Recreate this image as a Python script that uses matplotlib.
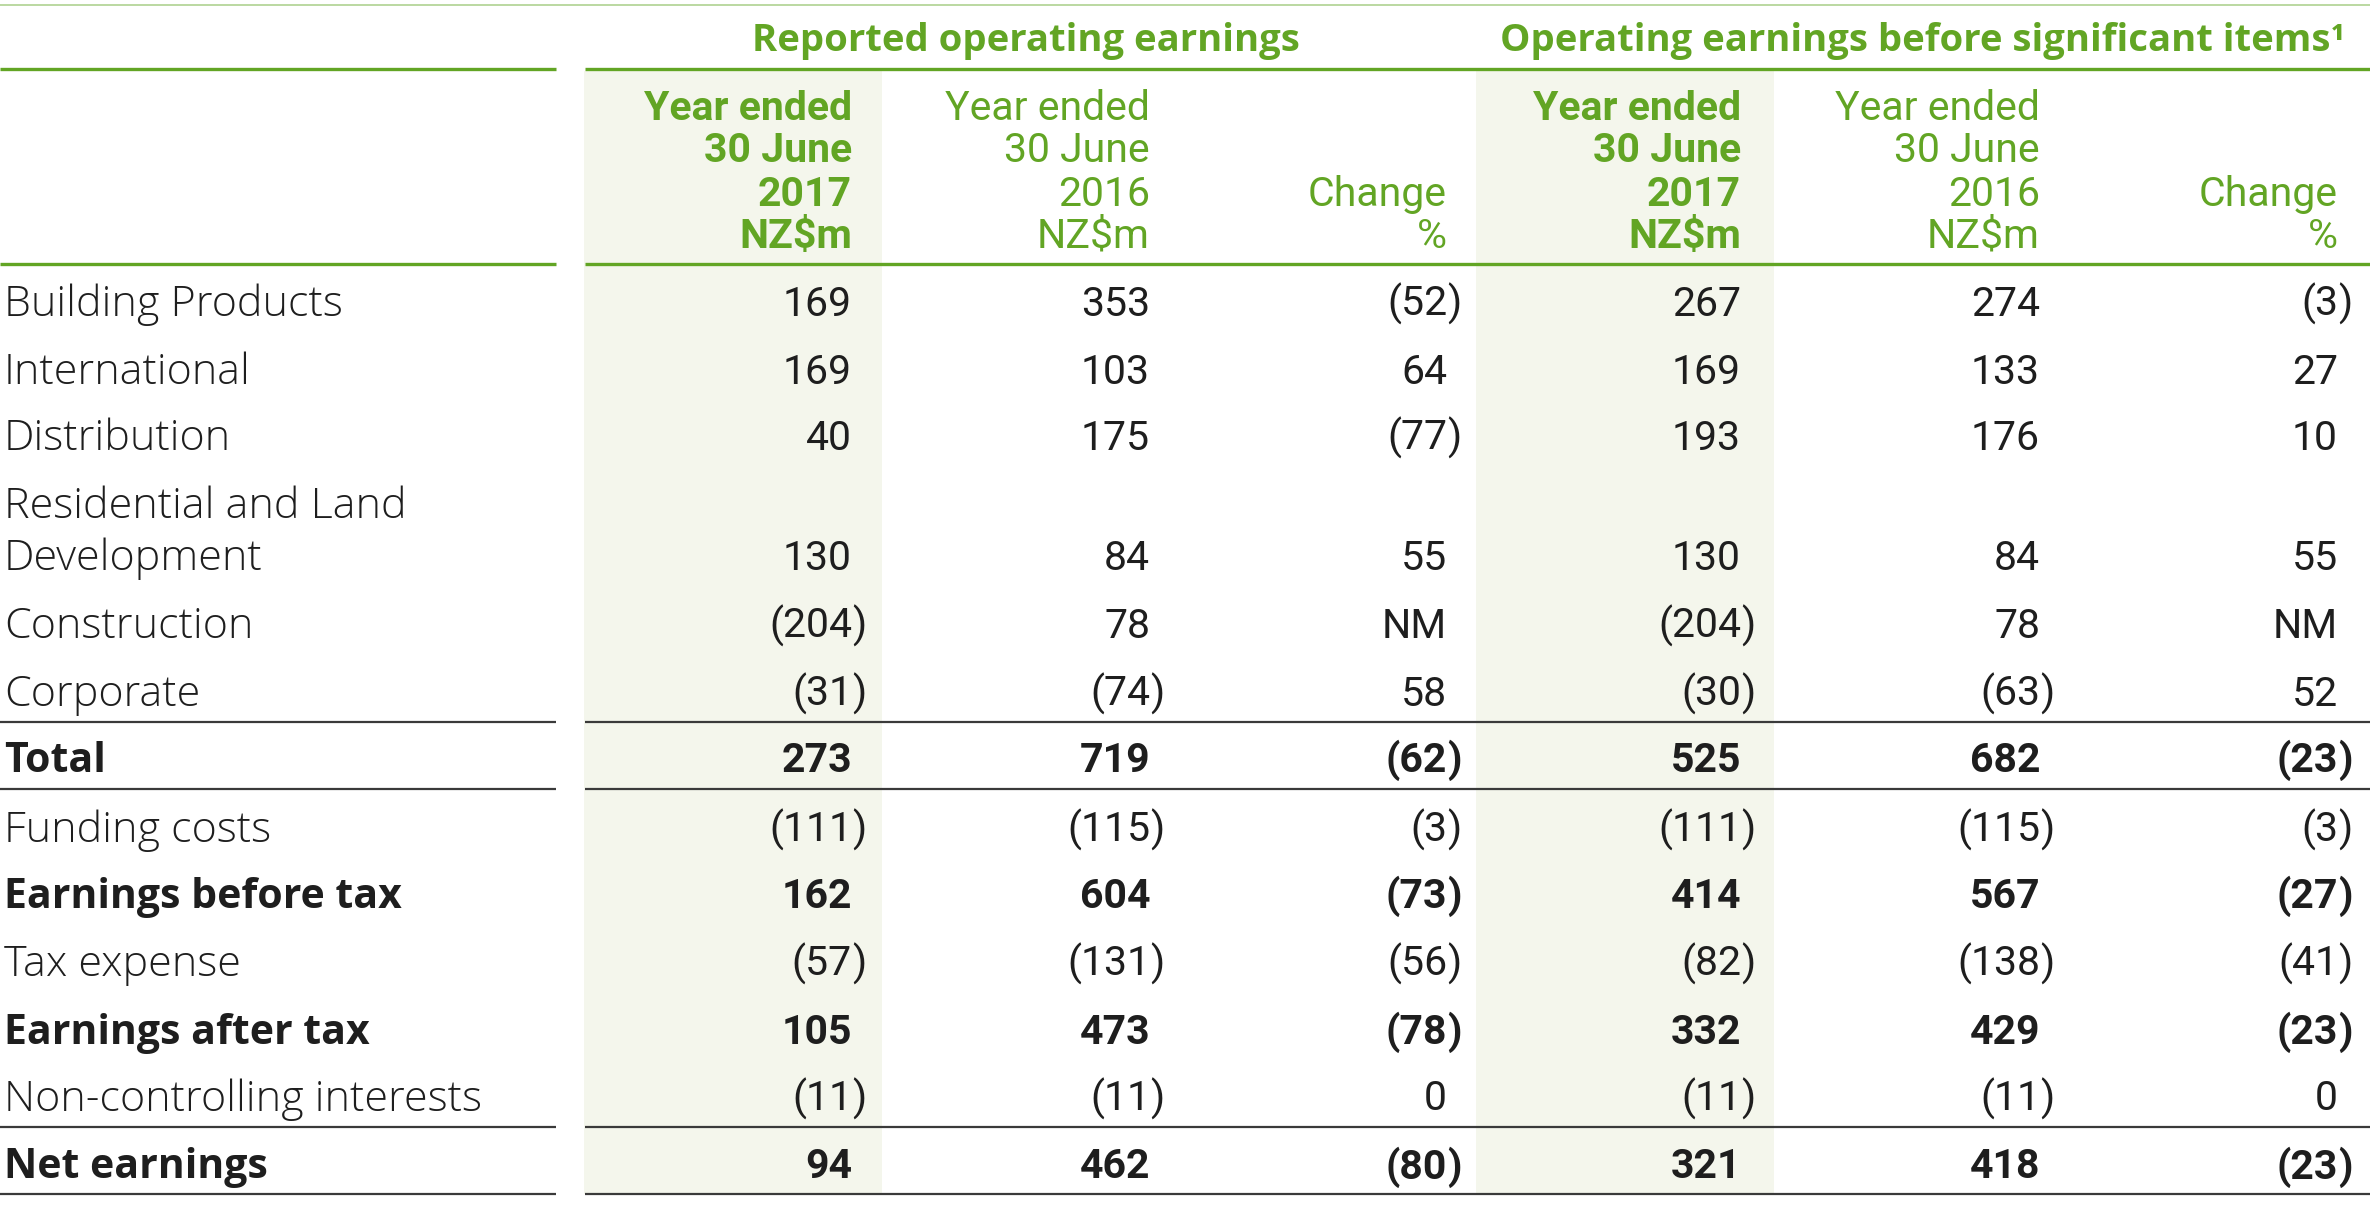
import matplotlib
matplotlib.use("Agg")
import matplotlib.pyplot as plt

# ---------------- data ----------------
row_labels = ["Building Products", "International", "Distribution",
              "Residential and Land\nDevelopment", "Construction", "Corporate",
              "Total", "Funding costs", "Earnings before tax", "Tax expense",
              "Earnings after tax", "Non-controlling interests", "Net earnings"]
bold_rows = ["Total", "Earnings before tax", "Earnings after tax", "Net earnings"]

reported_2017 = [169, 169, 40, 130, -204, -31, 273, -111, 162, -57, 105, -11, 94]
reported_2016 = [353, 103, 175, 84, 78, -74, 719, -115, 604, -131, 473, -11, 462]
reported_change = [-52, 64, -77, 55, None, 58, -62, -3, -73, -56, -78, 0, -80]
before_sig_2017 = [267, 169, 193, 130, -204, -30, 525, -111, 414, -82, 332, -11, 321]
before_sig_2016 = [274, 133, 176, 84, 78, -63, 682, -115, 567, -138, 429, -11, 418]
before_sig_change = [-3, 27, 10, 55, None, 52, -23, -3, -27, -41, -23, 0, -23]

group_titles = ["Reported operating earnings",
                "Operating earnings before significant items\u00b9"]
col_headers = [["Year ended", "30 June", "2017", "NZ$m"],
               ["Year ended", "30 June", "2016", "NZ$m"],
               ["", "", "Change", "%"]]

# ---------------- style ----------------
W, H = 2370, 1206
GREEN = "#62a524"
LIGHT_GREEN = "#b5d69a"
SHADE = "#f4f6ec"
TEXT = "#1e1e1e"
RULE = "#3a3a3a"
NUM_FONT = "Roboto"
LAB_FONT = "Open Sans"
FS = 29.5

fig = plt.figure(figsize=(W / 100, H / 100), dpi=100)
ax = fig.add_axes([0, 0, 1, 1])
ax.set_xlim(0, W)
ax.set_ylim(H, 0)
ax.axis("off")

col_x = [852, 1150, 1447, 1741, 2040, 2338]
label_x = 4
left_end, right_start = 556, 585
shade_spans = [(584, 882), (1476, 1774)]
row_y = [301, 369, 435, 555, 623, 691, 757, 827, 893, 961, 1029, 1096, 1164]
label_y2 = 503
cap = 14.5

for x0, x1 in shade_spans:
    ax.add_patch(plt.Rectangle((x0, 71), x1 - x0, 1194 - 71, color=SHADE, lw=0, zorder=0))

ax.plot([0, W], [5, 5], color=LIGHT_GREEN, lw=1.3, solid_capstyle="butt")
for y in (69, 264):
    ax.plot([0, left_end], [y, y], color=GREEN, lw=2.4, solid_capstyle="butt")
    ax.plot([right_start, W], [y, y], color=GREEN, lw=2.4, solid_capstyle="butt")
for y in (722, 789, 1127, 1194):
    ax.plot([0, left_end], [y, y], color=RULE, lw=1.6, solid_capstyle="butt")
    ax.plot([right_start, W], [y, y], color=RULE, lw=1.6, solid_capstyle="butt")

group_centers = [(right_start + 1466) / 2, (1476 + W) / 2]
for t, cx in zip(group_titles, group_centers):
    ax.text(cx, 38 + 12.5, t, ha="center", va="baseline", color=GREEN,
            fontsize=27.5, fontfamily=LAB_FONT, fontweight="bold")

head_y = [106, 148, 192, 233]
for g in range(2):
    for c in range(3):
        x = col_x[g * 3 + c]
        for line, y in zip(col_headers[c], head_y):
            if line:
                ax.text(x, y + cap, line, ha="right", va="baseline", color=GREEN,
                        fontsize=FS, fontfamily=NUM_FONT,
                        fontweight="bold" if c == 0 else "normal")


def put_value(x, y, v, weight):
    kw = dict(va="baseline", color=TEXT, fontsize=FS, fontfamily=NUM_FONT, fontweight=weight)
    if v is None:
        ax.text(x, y, "NM", ha="right", **kw)
    elif v < 0:
        ax.text(x, y, "(" + str(-v), ha="right", **kw)
        ax.text(x, y, ")", ha="left", **kw)
    else:
        ax.text(x, y, str(v), ha="right", **kw)


columns = [reported_2017, reported_2016, reported_change,
           before_sig_2017, before_sig_2016, before_sig_change]

for i, lab in enumerate(row_labels):
    bold = lab in bold_rows
    lw = "bold" if bold else "light"
    nw = "bold" if bold else "normal"
    lfs = FS if bold else 31
    y = row_y[i]
    lines = lab.split("\n")
    ys = [label_y2, y] if len(lines) == 2 else [y]
    for ln, yy in zip(lines, ys):
        ax.text(label_x, yy + cap + (0 if bold else 0.5), ln, ha="left", va="baseline",
                color=TEXT, fontsize=lfs, fontfamily=LAB_FONT, fontweight=lw)
    for x, col in zip(col_x, columns):
        put_value(x, y + cap, col[i], nw)

fig.savefig("out.png", dpi=100, facecolor="white")
